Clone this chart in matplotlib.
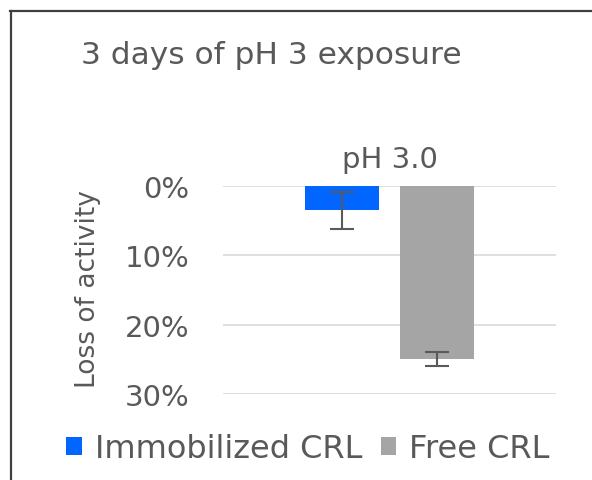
import matplotlib
matplotlib.use("Agg")
import matplotlib.pyplot as plt
from matplotlib.lines import Line2D
from matplotlib.ticker import FuncFormatter

categories = ["pH 3.0"]
series_names = ["Immobilized CRL", "Free CRL"]
immobilized = [0.035]
immobilized_err = [0.027]
free = [0.249]
free_err = [0.010]
yticks = [0.0, 0.1, 0.2, 0.3]

plt.rcParams['font.family'] = ['DejaVu Sans']
txt = '#595959'

W, H = 592, 481
fig = plt.figure(figsize=(W/100, H/100), dpi=100)
ax = fig.add_axes([223/W, 1-395/H, (556-223)/W, (395-187)/H])

x = list(range(len(categories)))
bw = 0.222
off = 0.143
ekw = dict(ecolor='#5a5a5a', elinewidth=1.5, capsize=8.5, capthick=1.5)
ax.bar([i - off for i in x], immobilized, width=bw, color='#0066ff', yerr=immobilized_err,
       error_kw=ekw, label=series_names[0], zorder=3)
ax.bar([i + off for i in x], free, width=bw, color='#a5a5a5', yerr=free_err,
       error_kw=ekw, label=series_names[1], zorder=3)

ax.set_xlim(-0.5, 0.5)
ax.set_ylim(0.30, 0.0)
ax.set_yticks(yticks)
ax.yaxis.set_major_formatter(FuncFormatter(lambda v, p: f"{v*100:.0f}%"))
ax.grid(axis='y', color='#d9d9d9', linewidth=1.2, zorder=0)
for s in ax.spines.values():
    s.set_visible(False)
ax.tick_params(axis='y', length=0, labelsize=21, labelcolor=txt, pad=24)
ax.xaxis.tick_top()
ax.set_xticks(x)
ax.set_xticklabels(categories)
ax.tick_params(axis='x', length=0, labelsize=21, labelcolor=txt, pad=9)
ax.set_ylabel("Loss of activity", fontsize=19, color=txt)
ax.yaxis.label.set_va('center')
ax.yaxis.set_label_coords((88-223)/333, (395-289)/208)

fig.text(271/W, 1-64/H, "3 days of pH 3 exposure", ha='center', va='baseline',
         fontsize=22.5, color=txt)

leg = fig.legend(loc='center', bbox_to_anchor=(308/W, 1-450/H), ncol=2, frameon=False,
                 fontsize=23, handlelength=0.48, handleheight=0.48, handletextpad=0.4,
                 columnspacing=0.6, labelcolor=txt, borderpad=0)

fig.add_artist(Line2D([10/W, 1.0], [1-12/H, 1-12/H], color='#404040', linewidth=1.6))
fig.add_artist(Line2D([10.5/W, 10.5/W], [0, 1-12/H], color='#404040', linewidth=1.6))

fig.savefig("out.png", dpi=100)
